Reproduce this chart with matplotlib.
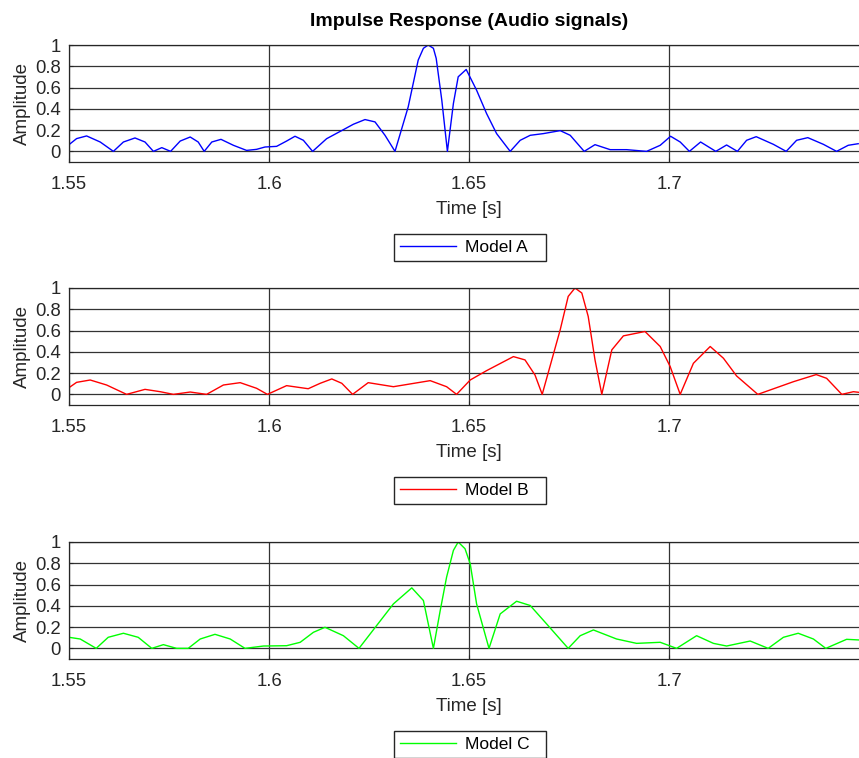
import numpy as np
import matplotlib
matplotlib.use("Agg")
from matplotlib import pyplot as plt

plt.rcParams['font.family'] = ['Liberation Sans', 'DejaVu Sans']

# Model A (blue)
t_a = [1.5500, 1.5519, 1.5544, 1.5578, 1.5611, 1.5636, 1.5665, 1.5690, 1.5711, 1.5732,
       1.5754, 1.5778, 1.5803, 1.5823, 1.5838, 1.5857, 1.5880, 1.5911, 1.5944, 1.5969,
       1.5990, 1.6019, 1.6044, 1.6065, 1.6086, 1.6109, 1.6144, 1.6186, 1.6211, 1.6240,
       1.6265, 1.6290, 1.6315, 1.6348, 1.6373, 1.6386, 1.6398, 1.6411, 1.6418, 1.6432,
       1.6446, 1.6461, 1.6473, 1.6493, 1.6519, 1.6544, 1.6569, 1.6603, 1.6628, 1.6653,
       1.6686, 1.6728, 1.6753, 1.6788, 1.6815, 1.6853, 1.6894, 1.6944, 1.6978, 1.7004,
       1.7028, 1.7051, 1.7079, 1.7117, 1.7144, 1.7171, 1.7194, 1.7218, 1.7261, 1.7293,
       1.7319, 1.7347, 1.7386, 1.7419, 1.7448, 1.7473]
amp_a = [0.063, 0.120, 0.145, 0.088, 0.000, 0.088, 0.126, 0.088, 0.000, 0.035,
         0.000, 0.097, 0.135, 0.088, 0.000, 0.088, 0.113, 0.057, 0.009, 0.019,
         0.041, 0.047, 0.097, 0.142, 0.104, 0.000, 0.119, 0.204, 0.255, 0.299,
         0.277, 0.151, 0.000, 0.418, 0.858, 0.969, 1.000, 0.969, 0.874, 0.481,
         0.000, 0.450, 0.701, 0.770, 0.575, 0.355, 0.167, 0.000, 0.104, 0.151,
         0.167, 0.195, 0.151, 0.000, 0.063, 0.016, 0.016, 0.000, 0.057, 0.142,
         0.088, 0.000, 0.088, 0.000, 0.060, 0.000, 0.104, 0.138, 0.066, 0.000,
         0.104, 0.129, 0.066, 0.000, 0.057, 0.072]

# Model B (red)
t_b = [1.5500, 1.5519, 1.5553, 1.5594, 1.5644, 1.5690, 1.5728, 1.5761, 1.5803, 1.5844,
       1.5886, 1.5928, 1.5969, 1.5996, 1.6044, 1.6098, 1.6128, 1.6157, 1.6182, 1.6209,
       1.6248, 1.6311, 1.6403, 1.6444, 1.6469, 1.6503, 1.6544, 1.6611, 1.6640, 1.6665,
       1.6683, 1.6707, 1.6728, 1.6748, 1.6765, 1.6782, 1.6798, 1.6815, 1.6832, 1.6857,
       1.6886, 1.6940, 1.6978, 1.7003, 1.7028, 1.7061, 1.7103, 1.7136, 1.7169, 1.7222,
       1.7311, 1.7368, 1.7394, 1.7432, 1.7461, 1.7475]
amp_b = [0.063, 0.113, 0.135, 0.088, 0.000, 0.047, 0.025, 0.000, 0.022, 0.000,
         0.088, 0.110, 0.057, 0.000, 0.082, 0.053, 0.104, 0.145, 0.104, 0.000,
         0.110, 0.072, 0.129, 0.072, 0.000, 0.135, 0.223, 0.355, 0.324, 0.182,
         0.000, 0.324, 0.607, 0.921, 1.000, 0.953, 0.733, 0.324, 0.000, 0.418,
         0.550, 0.591, 0.450, 0.261, 0.000, 0.292, 0.450, 0.340, 0.173, 0.000,
         0.119, 0.186, 0.151, 0.000, 0.025, 0.019]

# Model C (green)
t_c = [1.5500, 1.5528, 1.5568, 1.5598, 1.5636, 1.5673, 1.5707, 1.5736, 1.5769, 1.5798,
       1.5828, 1.5865, 1.5903, 1.5940, 1.5986, 1.6044, 1.6078, 1.6111, 1.6140, 1.6186,
       1.6225, 1.6269, 1.6311, 1.6357, 1.6386, 1.6411, 1.6428, 1.6444, 1.6461, 1.6473,
       1.6490, 1.6503, 1.6519, 1.6550, 1.6578, 1.6619, 1.6653, 1.6694, 1.6748, 1.6778,
       1.6811, 1.6869, 1.6919, 1.6978, 1.7019, 1.7069, 1.7111, 1.7144, 1.7203, 1.7248,
       1.7286, 1.7323, 1.7361, 1.7392, 1.7444, 1.7475]
amp_c = [0.104, 0.088, 0.000, 0.104, 0.142, 0.104, 0.000, 0.035, 0.000, 0.000,
         0.088, 0.132, 0.088, 0.000, 0.022, 0.025, 0.057, 0.151, 0.198, 0.119,
         0.000, 0.214, 0.418, 0.569, 0.450, 0.000, 0.355, 0.670, 0.921, 1.000,
         0.937, 0.796, 0.418, 0.000, 0.324, 0.443, 0.403, 0.230, 0.000, 0.119,
         0.173, 0.088, 0.047, 0.057, 0.000, 0.119, 0.047, 0.022, 0.069, 0.000,
         0.104, 0.142, 0.088, 0.000, 0.085, 0.079]

labels = ["Model A", "Model B", "Model C"]
colors = ["#0000ff", "#ff0000", "#00ff00"]
x_ticks = [1.55, 1.6, 1.65, 1.7]
x_ticklabels = ["1.55", "1.6", "1.65", "1.7"]
y_ticks = [0, 0.2, 0.4, 0.6, 0.8, 1]
y_ticklabels = ["0", "0.2", "0.4", "0.6", "0.8", "1"]

W, H = 859, 758
fig = plt.figure(figsize=(W / 100, H / 100), dpi=100)

# panel tops/bottoms in pixels, axes run from x=69 to x=869 (cut by figure edge)
panel_px = [(45, 162), (288, 405), (542, 659)]
legend_px = [(233, 262), (476, 505), (730, 759)]
series = [(t_a, amp_a), (t_b, amp_b), (t_c, amp_c)]

dark = "#262626"
for i in range(3):
    top, bot = panel_px[i]
    ax = fig.add_axes([69 / W, 1 - bot / H, 800 / W, (bot - top) / H])
    t, amp = series[i]
    line, = ax.plot(t, amp, color=colors[i], lw=1.0, label=labels[i])

    ax.set_xlim(1.55, 1.75)
    ax.set_ylim(-0.1, 1.0)
    ax.set_xticks(x_ticks)
    ax.set_xticklabels(x_ticklabels)
    ax.set_yticks(y_ticks)
    ax.set_yticklabels(y_ticklabels)
    ax.grid(True, color="#333333", lw=0.9)
    ax.set_axisbelow(True)
    ax.tick_params(direction="in", length=3, colors=dark, labelsize=13.3, pad=6)
    ax.tick_params(axis="x", pad=10)
    for s in ax.spines.values():
        s.set_color(dark)
        s.set_linewidth(0.9)

    ax.set_xlabel("Time [s]", fontsize=13.5, color=dark)
    ax.xaxis.set_label_coords(0.5, -0.33)
    ax.set_ylabel("Amplitude", fontsize=13.5, color=dark)
    ax.yaxis.set_label_coords(-0.048, 0.5)

    if i == 0:
        ax.set_title("Impulse Response (Audio signals)", fontsize=14,
                     fontweight="bold", pad=14)

    # legend box under each panel, extra room on the right like the original
    ltop, lbot = legend_px[i]
    fig.legend(handles=[line], loc="center", mode="expand",
               bbox_to_anchor=(394 / W, 1 - lbot / H, 152 / W, (lbot - ltop) / H),
               bbox_transform=fig.transFigure, borderaxespad=0,
               fontsize=12.5, handlelength=3.2, handletextpad=0.55,
               borderpad=0.35, fancybox=False, framealpha=1,
               edgecolor=dark)

fig.savefig("out.png", dpi=100)
